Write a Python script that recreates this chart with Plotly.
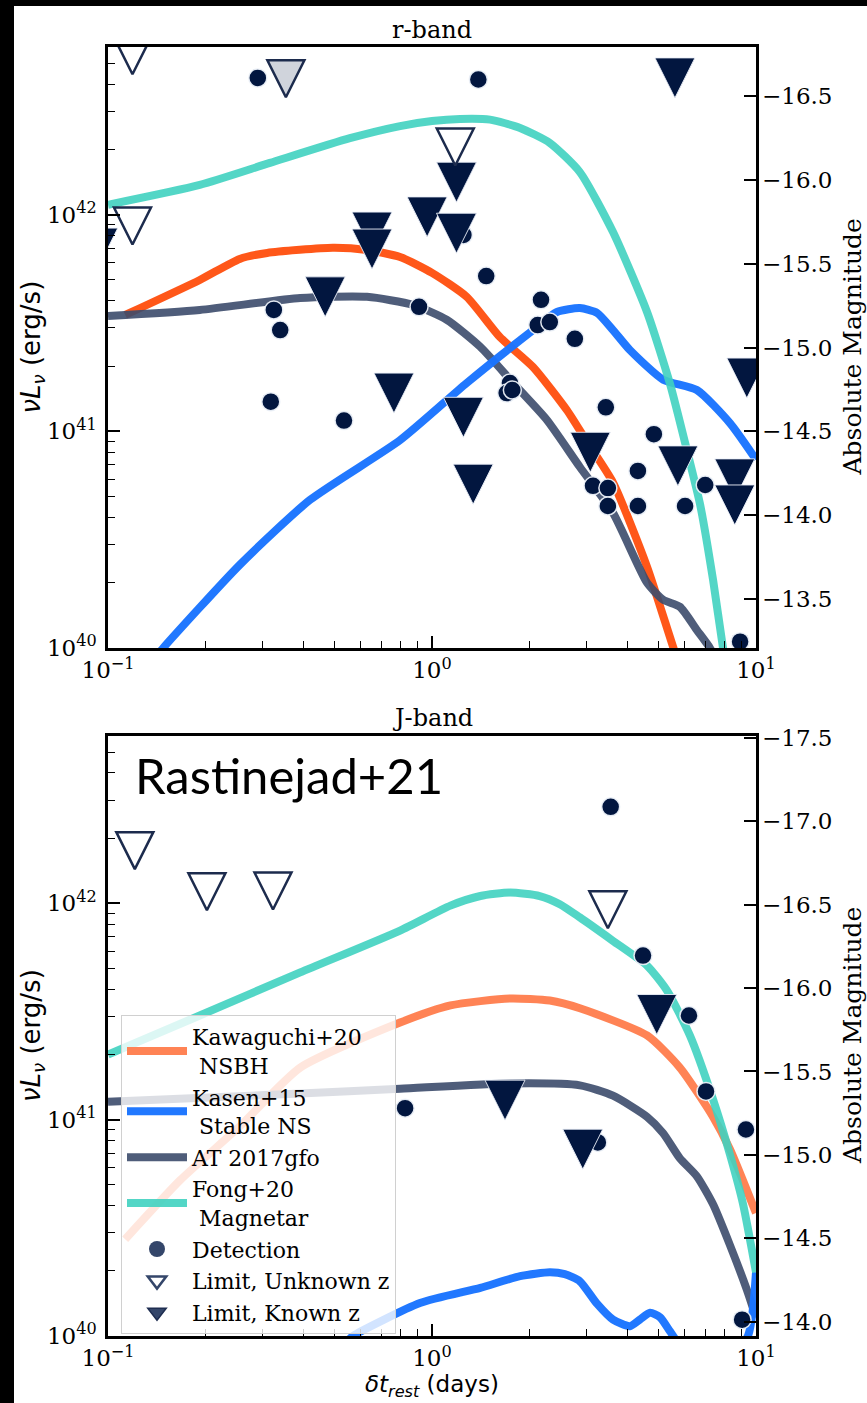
import plotly.graph_objects as go

# ---------------- r-band (top panel) ----------------
r_kaw_t = [0.113, 0.192, 0.255, 0.31, 0.494, 0.63, 0.797, 1.0, 1.28, 1.62, 2.05, 2.61, 3.00, 3.62, 4.61, 5.55, 6.5]
r_kaw_L = [3.44e41, 4.99e41, 6.24e41, 6.65e41, 7.02e41, 6.86e41, 6.37e41, 5.38e41, 4.17e41, 2.72e41, 1.98e41, 1.25e41, 9.0e40, 5.8e40, 2.37e40, 1.01e40, 5e39]

r_kasen_t = [0.14, 0.148, 0.255, 0.42, 0.797, 1.28, 2.05, 2.43, 2.86, 3.23, 3.62, 4.08, 5.17, 6.57, 8.31, 10.0]
r_kasen_L = [9e39, 1.0e40, 2.42e40, 4.82e40, 9.1e40, 1.67e41, 2.93e41, 3.55e41, 3.7e41, 3.52e41, 2.93e41, 2.37e41, 1.73e41, 1.55e41, 1.09e41, 7.4e40]

r_gfo_t = [0.1, 0.192, 0.392, 0.63, 0.873, 1.11, 1.41, 1.78, 2.26, 2.86, 3.62, 4.61, 5.17, 5.82, 6.57, 7.21, 7.8]
r_gfo_L = [3.4e41, 3.63e41, 4.12e41, 4.17e41, 3.83e41, 3.27e41, 2.45e41, 1.67e41, 1.13e41, 6.84e40, 4.2e40, 2.0e40, 1.67e40, 1.55e40, 1.21e40, 1.0e40, 8e39]

r_fong_t = [0.1, 0.192, 0.316, 0.558, 0.797, 1.0, 1.22, 1.51, 1.87, 2.31, 2.86, 3.62, 4.61, 5.43, 6.13, 6.72, 7.37, 7.91, 8.61]
r_fong_L = [1.11e42, 1.37e42, 1.73e42, 2.25e42, 2.56e42, 2.70e42, 2.76e42, 2.74e42, 2.51e42, 2.14e42, 1.57e42, 8.3e41, 3.55e41, 1.65e41, 8.1e40, 4.6e40, 2.06e40, 1.0e40, 4.7e39]

r_det_t = [0.29, 1.39, 0.325, 0.34, 0.318, 0.535, 0.912, 1.47, 2.17, 2.12, 2.31, 2.76, 1.74, 1.70, 1.77,
           3.44, 4.84, 4.32, 3.14, 3.49, 3.49, 4.32, 6.04, 6.97, 8.93, 1.25]
r_det_L = [4.27e42, 4.2e42, 3.63e41, 2.93e41, 1.37e41, 1.12e41, 3.75e41, 5.2e41, 4.04e41, 3.09e41, 3.19e41, 2.67e41, 1.67e41, 1.5e41, 1.55e41,
           1.29e41, 9.7e40, 6.56e40, 5.6e40, 5.47e40, 4.52e40, 4.52e40, 4.52e40, 5.65e40, 1.07e40, 8.05e41]

r_unk_t = [0.119, 0.119, 0.354, 1.18]
r_unk_L = [5.4e42, 8.85e41, 4.23e42, 2.05e42]
r_unk_fill = ["white", "white", "#d0d4dc", "white"]

r_known_t = [5.62, 1.19, 0.966, 1.19, 0.653, 0.653, 0.468, 0.763, 1.25, 1.34, 3.08, 5.74, 8.6, 8.6, 9.37, 0.093]
r_known_L = [4.27e42, 1.41e42, 9.75e41, 8.2e41, 8.3e41, 6.93e41, 4.17e41, 1.5e41, 1.16e41, 5.7e40, 8.0e40, 6.92e40, 6.03e40, 4.57e40, 1.76e41, 7.0e41]

# ---------------- J-band (bottom panel) ----------------
j_kaw_t = [0.113, 0.167, 0.255, 0.392, 0.797, 1.14, 1.74, 2.31, 2.86, 4.61, 5.82, 7.37, 8.31, 10.0]
j_kaw_L = [2.8e40, 5.25e40, 9.3e40, 1.74e41, 2.81e41, 3.37e41, 3.63e41, 3.55e41, 3.27e41, 2.45e41, 1.74e41, 1.03e41, 7.3e40, 3.7e40]

j_kasen_t = [0.55, 0.57, 0.918, 1.41, 1.87, 2.31, 2.57, 2.86, 3.23, 3.62, 4.08, 4.38, 4.71, 5.06, 5.43, 5.82, 7.7, 9.44, 10.0]
j_kasen_L = [9.5e39, 1.0e40, 1.42e40, 1.67e40, 1.89e40, 1.97e40, 1.93e40, 1.79e40, 1.41e40, 1.19e40, 1.11e40, 1.19e40, 1.28e40, 1.22e40, 1.05e40, 9.1e39, 7e39, 1.0e40, 1.97e40]

j_gfo_t = [0.1, 0.392, 0.797, 1.74, 2.86, 3.62, 4.61, 5.17, 5.82, 6.57, 7.37, 8.31, 9.38, 10.0]
j_gfo_L = [1.21e41, 1.32e41, 1.39e41, 1.47e41, 1.44e41, 1.29e41, 1.03e41, 8.65e40, 6.63e40, 5.47e40, 4.06e40, 2.63e40, 1.63e40, 1.22e40]

j_fong_t = [0.1, 0.192, 0.392, 0.797, 1.14, 1.41, 1.74, 2.15, 2.48, 2.86, 3.62, 4.61, 5.31, 6.25, 7.37, 8.31, 9.12, 10.0]
j_fong_L = [2.0e41, 3.03e41, 4.79e41, 7.48e41, 9.75e41, 1.08e42, 1.12e42, 1.08e42, 9.9e41, 8.6e41, 6.7e41, 5.15e41, 3.95e41, 2.45e41, 1.24e41, 6.9e40, 4.07e40, 1.97e40]

j_det_t = [3.56, 4.48, 6.21, 7.01, 9.31, 3.25, 9.06, 0.826]
j_det_L = [2.79e42, 5.73e41, 3.03e41, 1.35e41, 9.0e40, 7.85e40, 1.19e40, 1.13e41]

j_unk_t = [0.121, 0.202, 0.323, 3.49]
j_unk_L = [1.75e42, 1.13e42, 1.14e42, 9.33e41]

j_known_t = [4.94, 2.92, 1.68]
j_known_L = [3.06e41, 7.3e40, 1.23e41]

# ---------------- axes / labels ----------------
x_tickvals = [0.1, 1, 10]
x_ticktext = ["10<sup>\u22121</sup>", "10<sup>0</sup>", "10<sup>1</sup>"]
y_tickvals = [1e40, 1e41, 1e42]
y_ticktext = ["10<sup>40</sup>", "10<sup>41</sup>", "10<sup>42</sup>"]
r_mag_ticks = [-16.5, -16.0, -15.5, -15.0, -14.5, -14.0, -13.5]
j_mag_ticks = [-17.5, -17.0, -16.5, -16.0, -15.5, -15.0, -14.5, -14.0]
legend_names = ["Kawaguchi+20<br>\u00a0NSBH", "Kasen+15<br>\u00a0Stable NS", "AT 2017gfo",
                "Fong+20<br>\u00a0Magnetar", "Detection", "Limit, Unknown z", "Limit, Known z"]

C_KAW_R = "rgba(255,69,0,0.9)"
C_KAW_J = "rgba(255,127,80,0.97)"
C_KASEN = "rgba(26,116,255,0.97)"
C_GFO = "rgba(60,75,108,0.9)"
C_FONG = "rgba(64,210,192,0.9)"
NAVY = "#02163f"
LEG = "#34466a"

W, H = 867, 1403
ML, MR, MT, MB = 108, 111, 47, 67
PW, PH = W - ML - MR, H - MT - MB
YR = [40, 42.773]
TOP_PX, BOT_PX = 601, 600            # panel heights in pixels
KN_SIZE, UNK_SIZE = 40, 37            # triangle marker sizes (px)


def py(p):
    return (H - MB - p) / PH


def px(p):
    return (p - ML) / PW


fig = go.Figure()


def add_line(t, L, color, xa, ya):
    fig.add_trace(go.Scatter(x=t, y=L, mode="lines", line=dict(color=color, width=8, shape="spline", smoothing=0.6),
                             showlegend=False, xaxis=xa, yaxis=ya, hoverinfo="skip"))


def add_markers(xa, ya, ya_unk, ya_kn, det_t, det_L, unk_t, unk_L, unk_fill, kn_t, kn_L):
    fig.add_trace(go.Scatter(x=det_t, y=det_L, mode="markers", showlegend=False, xaxis=xa, yaxis=ya,
                             marker=dict(symbol="circle", size=18, color=NAVY,
                                         line=dict(color="rgba(235,240,248,0.95)", width=1.5))))
    # 'arrow-down' has its tip on the data point; its overlay axis is offset by half a marker
    # so the triangle is centred on the value (as matplotlib's 'v' marker is)
    fig.add_trace(go.Scatter(x=unk_t, y=unk_L, mode="markers", showlegend=False, xaxis=xa, yaxis=ya_unk,
                             marker=dict(symbol="arrow-down", size=UNK_SIZE, color=unk_fill,
                                         line=dict(color="#1c2b4d", width=2.5))))
    fig.add_trace(go.Scatter(x=kn_t, y=kn_L, mode="markers", showlegend=False, xaxis=xa, yaxis=ya_kn,
                             marker=dict(symbol="arrow-down", size=KN_SIZE, color=NAVY,
                                         line=dict(color="rgba(235,240,248,0.9)", width=1))))


# top panel
add_line(r_kaw_t, r_kaw_L, C_KAW_R, "x", "y")
add_line(r_gfo_t, r_gfo_L, C_GFO, "x", "y")
add_line(r_kasen_t, r_kasen_L, C_KASEN, "x", "y")
add_line(r_fong_t, r_fong_L, C_FONG, "x", "y")
add_markers("x", "y", "y6", "y5", r_det_t, r_det_L, r_unk_t, r_unk_L, r_unk_fill, r_known_t, r_known_L)

# bottom panel
add_line(j_kaw_t, j_kaw_L, C_KAW_J, "x2", "y3")
add_line(j_gfo_t, j_gfo_L, C_GFO, "x2", "y3")
add_line(j_kasen_t, j_kasen_L, C_KASEN, "x2", "y3")
add_line(j_fong_t, j_fong_L, C_FONG, "x2", "y3")
add_markers("x2", "y3", "y8", "y7", j_det_t, j_det_L, j_unk_t, j_unk_L, "white", j_known_t, j_known_L)

# invisible traces for the magnitude axes
fig.add_trace(go.Scatter(x=[None], y=[None], xaxis="x", yaxis="y2", showlegend=False))
fig.add_trace(go.Scatter(x=[None], y=[None], xaxis="x2", yaxis="y4", showlegend=False))

# legend entries
leg_lines = [C_KAW_J, C_KASEN, C_GFO, C_FONG]
for name, col in zip(legend_names[:4], leg_lines):
    fig.add_trace(go.Scatter(x=[None], y=[None], mode="lines", name=name, xaxis="x2", yaxis="y3",
                             line=dict(color=col, width=8)))
fig.add_trace(go.Scatter(x=[None], y=[None], mode="markers", name=legend_names[4], xaxis="x2", yaxis="y3",
                         marker=dict(symbol="circle", size=16, color=LEG)))
fig.add_trace(go.Scatter(x=[None], y=[None], mode="markers", name=legend_names[5], xaxis="x2", yaxis="y3",
                         marker=dict(symbol="triangle-down", size=16, color="white", line=dict(color=LEG, width=2.5))))
fig.add_trace(go.Scatter(x=[None], y=[None], mode="markers", name=legend_names[6], xaxis="x2", yaxis="y3",
                         marker=dict(symbol="triangle-down", size=16, color=LEG, line=dict(color="#1e2d50", width=1.5))))

minor_x = [k * 0.1 for k in range(2, 10)] + [float(k) for k in range(2, 10)]
minor_y = [k * 1e40 for k in range(2, 10)] + [k * 1e41 for k in range(2, 10)] + [k * 1e42 for k in range(2, 6)]

top_dom = [py(648), 1.0]
bot_dom = [0.0, py(736)]

xcommon = dict(type="log", range=[-1, 1], tickvals=x_tickvals, ticktext=x_ticktext, ticks="inside",
               ticklen=12, tickwidth=1.5, tickcolor="black", showline=True, linewidth=2.5, linecolor="black",
               mirror=True, showgrid=False, zeroline=False, automargin=False, domain=[0, 1],
               tickfont=dict(size=23), ticklabelstandoff=0,
               minor=dict(tickvals=minor_x, ticks="inside", ticklen=7, tickwidth=1.2, tickcolor="black", showgrid=False))
ycommon = dict(type="log", range=YR, tickvals=y_tickvals, ticktext=y_ticktext, ticks="inside",
               ticklen=12, tickwidth=1.5, tickcolor="black", showline=True, linewidth=2.5, linecolor="black",
               mirror=True, showgrid=False, zeroline=False, automargin=False, tickfont=dict(size=23),
               ticklabelstandoff=4,
               minor=dict(tickvals=minor_y, ticks="inside", ticklen=7, tickwidth=1.2, tickcolor="black", showgrid=False))
magcommon = dict(side="right", ticks="inside", ticklen=12, tickwidth=1.5, tickcolor="black", showline=False,
                 showgrid=False, zeroline=False, automargin=False, tickfont=dict(size=23), ticklabelstandoff=5)


def shifted(over, anchor, size, panel_px):
    d = (size / 2) * (YR[1] - YR[0]) / panel_px
    return dict(type="log", overlaying=over, anchor=anchor, range=[YR[0] + d, YR[1] + d], visible=False)


fig.update_layout(
    width=W, height=H, margin=dict(l=ML, r=MR, t=MT, b=MB),
    paper_bgcolor="white", plot_bgcolor="white",
    font=dict(family="DejaVu Serif", size=23, color="black"),
    xaxis=dict(anchor="y", **xcommon),
    yaxis=dict(anchor="x", domain=top_dom, **ycommon),
    yaxis2=dict(anchor="x", overlaying="y", range=[-13.206, -16.794], tickvals=r_mag_ticks,
                ticktext=[f"\u2212{abs(v):.1f}" for v in r_mag_ticks], **magcommon),
    xaxis2=dict(anchor="y3", **xcommon),
    yaxis3=dict(anchor="x2", domain=bot_dom, **ycommon),
    yaxis4=dict(anchor="x2", overlaying="y3", range=[-13.915, -17.51], tickvals=j_mag_ticks,
                ticktext=[f"\u2212{abs(v):.1f}" for v in j_mag_ticks], **magcommon),
    yaxis5=shifted("y", "x", KN_SIZE, TOP_PX),
    yaxis6=shifted("y", "x", UNK_SIZE, TOP_PX),
    yaxis7=shifted("y3", "x2", KN_SIZE, BOT_PX),
    yaxis8=shifted("y3", "x2", UNK_SIZE, BOT_PX),
    legend=dict(x=px(121), y=py(1015), xanchor="left", yanchor="top", bgcolor="rgba(255,255,255,0.8)",
                bordercolor="#d0d0d0", borderwidth=1, font=dict(family="DejaVu Serif", size=22),
                tracegroupgap=0, itemsizing="trace", itemwidth=60),
    showlegend=True,
)

ann = [
    dict(text="r-band", x=0.5, y=py(30), font=dict(size=24)),
    dict(text="J-band", x=0.5, y=py(718), font=dict(size=24)),
    dict(text="Rastinejad+21", x=px(133), y=py(775), xanchor="left", font=dict(family="Lato", size=49)),
    dict(text="<i>\u03bdL</i><sub><i>\u03bd</i></sub> (erg/s)", x=px(32), y=(top_dom[0] + top_dom[1]) / 2,
         textangle=-90, font=dict(family="DejaVu Sans", size=26)),
    dict(text="<i>\u03bdL</i><sub><i>\u03bd</i></sub> (erg/s)", x=px(32), y=(bot_dom[0] + bot_dom[1]) / 2,
         textangle=-90, font=dict(family="DejaVu Sans", size=26)),
    dict(text="Absolute Magnitude", x=px(852), y=(top_dom[0] + top_dom[1]) / 2, textangle=-90, font=dict(size=25)),
    dict(text="Absolute Magnitude", x=px(852), y=(bot_dom[0] + bot_dom[1]) / 2, textangle=-90, font=dict(size=25)),
    dict(text="<i>\u03b4t</i><sub><i>rest</i></sub> (days)", x=0.5, y=py(1403), yanchor="bottom",
         font=dict(family="DejaVu Sans", size=23)),
]
for a in ann:
    a.setdefault("xanchor", "center")
    a.setdefault("yanchor", "middle")
    fig.add_annotation(xref="paper", yref="paper", showarrow=False, **a)

# black border strips of the original image
fig.add_shape(type="rect", xref="paper", yref="paper", x0=px(0), x1=px(14), y0=py(H), y1=py(0),
              fillcolor="black", line=dict(width=0))
fig.add_shape(type="rect", xref="paper", yref="paper", x0=px(0), x1=px(W), y0=py(6), y1=py(0),
              fillcolor="black", line=dict(width=0))

fig.write_html("out.html")
